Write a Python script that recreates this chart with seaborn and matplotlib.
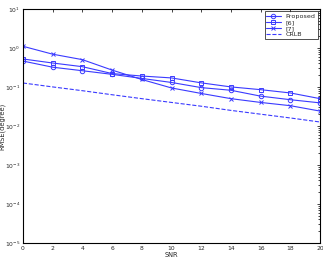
import matplotlib
matplotlib.use("Agg")
import matplotlib.pyplot as plt
import seaborn as sns

snr = [0, 2, 4, 6, 8, 10, 12, 14, 16, 18, 20]
proposed = [0.46, 0.32, 0.26, 0.21, 0.165, 0.13, 0.096, 0.082, 0.058, 0.047, 0.039]
ref6 = [0.52, 0.41, 0.33, 0.22, 0.19, 0.17, 0.127, 0.10, 0.085, 0.07, 0.05]
ref7 = [1.1, 0.69, 0.50, 0.27, 0.155, 0.094, 0.068, 0.050, 0.040, 0.033, 0.024]
crlb = [0.126, 0.100, 0.080, 0.063, 0.050, 0.040, 0.032, 0.025, 0.020, 0.016, 0.0126]

sns.set_style("white")
plt.rcParams["font.family"] = ["DejaVu Sans"]
blue = "#3a3aff"

fig = plt.figure(figsize=(3.23, 2.61), dpi=100)
ax = fig.add_axes([0.071, 0.069, 0.92, 0.897])

series = [
    ("Proposed", proposed, "o", "-", 3.2),
    ("[6]", ref6, "s", "-", 3.0),
    ("[7]", ref7, "x", "-", 2.2),
    ("CRLB", crlb, None, "--", 3),
]
for name, vals, mk, ls, ms in series:
    sns.lineplot(x=snr, y=vals, label=name, color=blue, marker=mk, linestyle=ls,
                 markersize=ms, markerfacecolor="none", markeredgecolor=blue,
                 markeredgewidth=0.7, linewidth=0.8, ax=ax)

ax.set_yscale("log")
ax.set_xlim(0, 20)
ax.set_ylim(1e-5, 10)
ax.set_xticks(snr)
ax.tick_params(axis="both", which="both", direction="in", labelsize=4.3,
               top=True, right=True, length=2.5, width=0.6, pad=2)
ax.tick_params(which="minor", length=1.5)
for s in ax.spines.values():
    s.set_linewidth(0.8)
    s.set_color("black")
ax.set_xlabel("SNR", fontsize=4.8, labelpad=1)
ax.set_ylabel("RMSE(degree)", fontsize=4.8)
ax.yaxis.set_label_coords(-0.058, 0.5)

leg = ax.legend(loc="upper right", fontsize=4.6, frameon=True, fancybox=False,
                edgecolor="black", borderpad=0.3, handlelength=2.2,
                labelspacing=0.1, borderaxespad=0.4)
leg.get_frame().set_linewidth(0.6)

fig.savefig("out.png", dpi=100)
